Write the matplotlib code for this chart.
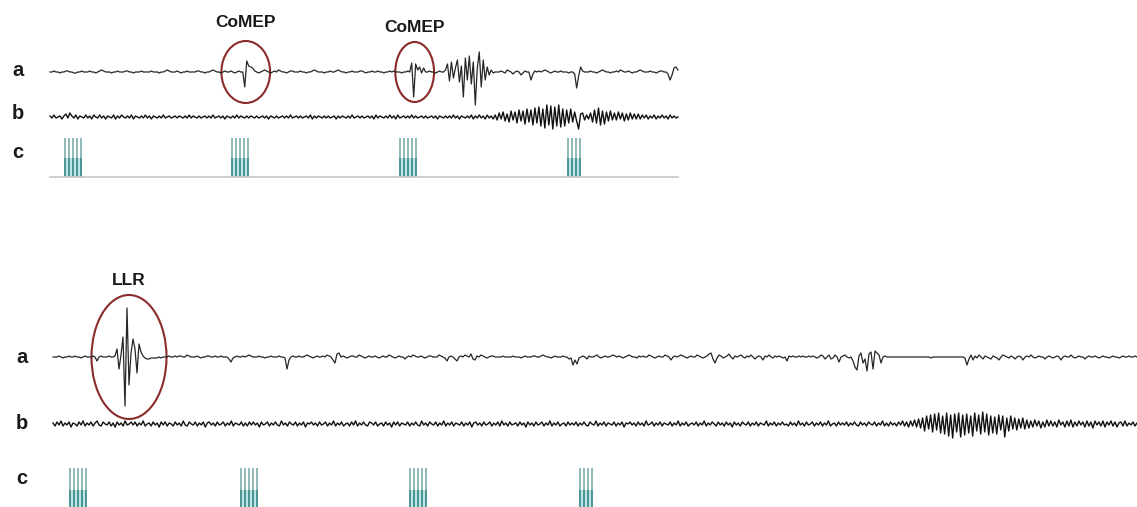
import numpy as np
import matplotlib
matplotlib.use("Agg")
import matplotlib.pyplot as plt
from matplotlib.patches import Ellipse, Rectangle

plt.rcParams['font.family'] = ['Liberation Sans', 'DejaVu Sans']

SAMPLE_MS = 2  # both sweeps are sampled every 2 ms

# --- sweep 1: channel a (EMG), channel b (EEG); amplitude in display units, up = positive
top_a = [
    0, 0, 1, 0, 0, -1, 0, 0, 1, 1, 0, 0, -1, -1, 0, 0, 1, 0, 0, 0,
    1, 0, 0, -1, 0, 1, 2, 1, 0, 0, 0, -1, 0, 0, 1, 0, 0, 0, 1, 1,
    0, 0, -1, 0, 0, 0, 1, 0, 0, 0, 0, 1, 0, 0, 0, -1, 0, 0, 1, 2,
    1, 0, 0, 0, 1, 0, -1, 0, 0, 1, 0, 0, 0, 0, 1, 1, 0, 0, -1, 0,
    0, 1, 2, 1, 0, 0, -1, 0, 1, 0, 0, 1, 0, -1, 0, 1, 0, 0,
    -15, 11, 6, 5, 4, 1, 0,
    -1, 0, 1, 2, 1, 0, -1, 0, 1, 0, 2, 1, 0, 0, -1, 0, 1, 1, 0, 0,
    0, 1, 0, 0, -1, 0, 0, 1, 2, 1, 0, 0, 0, -1, 0, 0, 1, 0, 0, 1,
    2, 1, 0, 0, -1, 0, 0, 1, 0, 0, 0, 1, 1, 0, -1, 0, 0, 1, 0, 0,
    1, 0, 0, -1, 0, 0, 1, 0, 1, 0, 0, 0, -1, 0, 0, 1, 0,
    9, -25, 8, 2, 5, -1, 4, 0,
    0, 1, 0, 0, -1, 0, 1, 0, 0,
    2, 8, -9, 10, -6, 4, 12, -10, 6, -25, 14, -8, 16, -12, 10, -33, 4, 20,
    -15, 12, -8, 5, -3, 2, -1, 0, 0,
    0, 1, 0, -1, 2, 1, 0, -2, 0, 1, 0, -3, -1, 1, 0, 0,
    -8, -2, 1, 0, 1, 0,
    1, 2, 1, 0, -1, 0, 1, 0, 0, 1, 0, 0,
    0, -1, 0,
    0, -2, -16, -4, 5, 1, 0, 0,
    0, 1, 0, 0, -1, 0, 1, 2, 1, 0, 0, -1, 0, 0, 1, 0, 2, 1, 0, 0,
    1, 0, -1, 0, 0, 1, 2, 1, 0, 0,
    0, 1, 0, 0, -1, 0, 1, 1, 0, 0, -2, -8, -3, 4, 5, 2,
]

top_b = [
    1, -1, 2, -1, 0, 1, -2, 1, 3, -1, 4, 1, -1, 2, -2, 1, 0, -1, 2, -1,
    1, -2, 2, 0, -1, 2, -1, 1, -2, 1, 0, -1, 2, -2, 1, -1, 2, 0, -1, 1,
    -1, 2, -2, 1, 0, -1, 1, -1, 2, -1, 1, -2, 1, 0, -1, 1, -1, 2, -1, 0,
    1, -1, 0, 1, -1, 1, 0, -1, 1, -1, 2, -1, 1, 0, -1, 1, -1, 0, 1, -1,
    1, -1, 2, -1, 0, 1, -1, 1, -2, 1, 0, -1, 1, -1, 2, -1, 1, 0, -1, 1,
    -1, 1, 0, -1, 1, -1, 0, 1, -1, 1, -2, 1, 0, -1, 1, -1, 0, 1, -1, 1,
    -1, 2, -1, 0, 1, -1, 1, -1, 0, 1, -1, 2, -2, 1, -1, 1, 0, -1, 1, -1,
    1, -1, 0, 1, -2, 1, -1, 1, 0, -1, 1, -1, 2, -1, 0, 1, -1, 1, -1, 0,
    1, -1, 1, -2, 2, -1, 1, 0, -1, 1, -1, 2, -1, 1, -2, 2, -1, 0, 1, -1,
    1, -1, 2, -1, 1, -1, 0, 1, -1, 1, -1, 0, 1, -1, 1, -2, 1, 0, -1, 1,
    -1, 1, -1, 2, -1, 1, -2, 1, 0, -1, 1, -1, 2, -2, 1, -1, 2, -1, 1, -2,
    2, -1, 1, -2,
    2, -3, 4, -2, 5, -4, 3, -5, 6, -3, 5, -6, 7, -4, 6, -7, 8, -5, 7, -8,
    9, -6, 10, -9, 8, -11, 12, -8, 11, -12, 10, -9, 12, -10, 8, -9, 7, -6, 8, -5,
    5, -4, -12, 3, 4, -3, 2, -2, 4, -5, 7, -6, 9, -8, 6, -7, 5, -4, 6, -3,
    4, -3, 5, -2, 4, -4, 3, -3, 4, -2, 3, -2, 3,
    -2, 2, -1, 2, -2, 1, -1, 2, -2, 1, -1, 2, -1, 1, -2, 2, -1, 1, -1, 0,
]

# --- sweep 2
bottom_a = [
    0, 0, 0, 1, 0, -1, 0, 0, 1, 0, 0, 1, 0, 0, -1, 0, 1, 0, 0, 0, 1,
    0, -4, 0, 1, 0, 0, 0, 1, 0, 0, 1,
    8, -12, 2, 20, -49, 49, -28, 4, 18, 8, -16, 13, 5, 1,
    -1, -2, -2, -1, -1, -1, -1, 0, -1, 0, 0, 0, 1, 0, 0, 1,
    0, 1, 1, 0, 0, 2, 1, 0, 0, 0, 1, 0, -1, 0, 0, 1, 1, 0, 0, 1,
    0, 0, 1, 0, 0, 0, -2, -5, -1, 0, 1, 0, 0, 1, 0, 1, 2, 1, 0, 0,
    0, 1, 0, 0, -1, 0, 0, 1, 0, 0, 0, 1, 0, 0, -1, -12, -3, 0, 1, 0,
    0, 1, 0, 0, 1, 2, 1, 0, -1, 0, 1, 0, 0, 1, 0, 2, 1, 0, -3, -6,
    3, 4, 0, 1, 0, -1, 0, 1, 1, 0, 0, 2, 1, 0, -1, 0, 1, 0, 0, 1,
    0, -1, 0, 1, 0, 0, 2, 1, 0, -1, 0, 1, 0, 0, -2, 0, 1, 0, 2, 1,
    0, 0, 1, 0, -1, 0, 1, 1, 0, 0, 0, 2, 1, 0, -1, -4, 0, 1, 0, -2,
    -4, 0, 1, 0, 2, 1, 0, 3, -2, -3, 1, 0, 2, 1, 0, -1, 0, 1, 1, 0,
    0, 0, 0, 1, 0, 0, 0, 0, 1, 0, 0, 0, -1, 0, 1, 0, 0, 0, 1, 1,
    0, 0, 1, 2, 1, 0, 0, -1, 0, 1, 0, 0, 0, 1, 0, 0, -2, -1, -8, -3,
    -7, -1, 0, 1, 0, -2, 1, 0, 0, 1, 2, 0, -1, 0, 1, 0, 0, 1, 2, 1,
    0, 1, 0, -1, 0, 1, 2, 1, 0, 0, -1, 1, 0, 1, 0, 0, 2, 1, 0, -1,
    0, 1, 0, 0, 2, 1, 0, -3, 0, 1, 0, 1, 2, 1, 0, -1, 0, 1, 0, 0,
    2, 1, 0, -1, 0, 1, 3, 4, -2, -6, -1, 2, 1, -1, 0, 1, 3, 0, -2, 1,
    0, 1, 2, 0, -1, 1, 0, 2, 0, -2, 0, 1, 0, -3, 1, 0, 2, 0, -1, 1,
    0, 1, 0, -1, 0, -4, 1, 0, 1, 0, 0, 1, 0, 1, 0, 0, 1, 0, 1, 0,
    -1, 0, 2, 1, -2, 0, 2, -2, -1, 2, 0, -5, 0, 1, 2, 0, -1, 0, -4, -10,
    -13, 1, 4, -6, -2, -14, 3, 5, -12, 6, 4, 2, -6, 0, 1, 0, 0, 0, 0, 0,
    0, 0, 0, 0, 0, 0, 0, 0, 0, 0, 0, 0, 0, 0, 0, 0, 0, -1, 0, 0,
    0, 0, 0, 0, 0, 0, 0, 0, 0, 0, 0, 0, 0, 0, -1, -8, -2, 2, -3, 1,
    -1, 2, 0, -2, 1, 0, -1, -2, 1, 0, -1, -3, 0, 2, 1, 0, -1, 1, 0, -2,
    0, 1, 0, -3, 0, 1, 0, 2, 0, -1, 0, 1, 0, 0, -2, 0, 1, 0, -1, 0,
    1, 0, -3, 0, 1, 0, 0, 2, 0, -1, 0, 1, 0, 0, -2, 0, 1, 0, 0, 1,
    0, -1, 0, 1, 0, 0, -1, 0, 1, 0, 0, -1, 0, 1, 0, 0, 1, 0, 0, 1, 0,
]

bottom_b = [
    1, -2, 2, -1, 3, -2, 1, -1, 2, -3, 1, 0, -2, 2, -1, 3, -2, 1, -1, 2,
    -2, 1, 3, -1, -2, 2, 0, -1, 2, -2, 1, -3, 2, -1, 1, -2, 3, -1, 0, 2,
    -1, 2, -2, 1, -1, 3, -2, 0, 1, -2, 2, -1, 1, -3, 2, -1, 2, -2, 1, 0,
    -2, 2, -1, 1, -2, 3, -1, -2, 2, 0, -1, 2, -2, 1, -1, 2, -3, 1, 2, -1,
    1, -2, 2, -1, 0, 2, -2, 1, -1, 3, -2, 1, 0, -1, 2, -2, 1, -2, 2, -1,
    2, -1, 1, -3, 2, -1, 0, 2, -2, 1, -1, 2, -1, -2, 3, -1, 1, -2, 2, 0,
    -1, 2, -2, 1, -1, 2, -3, 1, 0, 2, -1, 1, -2, 2, -1, 0, 2, -2, 1, -1,
    3, -2, 1, -1, 2, -2, 0, 1, -2, 2, -1, 3, -2, 1, -1, 2, -1, -2, 2, 1,
    -1, 2, -2, 0, 1, -2, 2, -1, 1, -3, 2, -1, 2, -2, 1, 0, -1, 2, -2, 1,
    -1, 2, -1, -2, 3, -1, 1, -2, 2, 0, -1, 2, -2, 1, -1, 3, -2, 1, -1, 2,
    -2, 1, 0, -1, 2, -2, 1, -1, 2, -3, 1, 2, -1, 1, -2, 2, -1, 0, 2, -2,
    1, -1, 2, -2, 3, -1, 1, -2, 2, -1, 0, 1, -2, 2, -1, 1, -3, 2, -1, 1,
    -2, 2, -1, 0, 2, -2, 1, -1, 3, -2, 1, -1, 2, -2, 0, 1, -2, 2, -1, 1,
    -1, 2, -2, 1, -1, 2, -1, -2, 2, 0, -1, 3, -2, 1, -1, 2, -2, 1, 0, -1,
    2, -2, 1, -1, 2, -3, 1, 0, 2, -1, 1, -2, 2, -1, 1, -2, 3, -1, 0, 2,
    -2, 1, -1, 2, -2, 1, 0, -1, 2, -2, 1, -1, 3, -2, 1, -1, 2, -2, 0, 1,
    -1, 2, -2, 1, -1, 3, -2, 1, -1, 2, 0, -2, 2, -1, 1, -2, 2, -1, 1, -3,
    2, -1, 1, -2, 2, 0, -1, 2, -2, 1, -1, 2, -2, 1, 0, -1, 3, -2, 1, -1,
    2, -2, 1, -1, 2, -1, 0, -2, 2, -1, 1, -2, 3, -1, 1, -2, 2, -1, 0, 2,
    -2, 1, -1, 2, -2, 1, -1, 3, -2, 0, 1, -2, 2, -1, 1, -1, 2, -2, 1, -1,
    2, -1, -2, 2, -1, 1, -2, 2, 0, -1, 2, -2, 1, -1, 3, -2, 1, -2, 2, -1,
    1, -2, 2, -1, 3, -2, 2, -3, 3, -2,
    4, -3, 5, -4, 6, -7, 8, -5, 9, -8, 10, -6, 11, -9, 8, -10, 11, -12, 9, -14,
    10, -8, 11, -13, 9, -11, 10, -9, 8, -12, 11, -7, 9, -10, 12, -8, 10, -11, 8, -9,
    7, -10, 9, -6, 8, -13, 6, -7, 8, -5, 6, -6, 5, -4, 6, -5, 4, -4,
    3, -3, 4, -2, 3, -4, 2, -3, 4, -2, 3, -2, 2, -3, 4, -1, 2, -3, 3, -2,
    4, -3, 2, -2, 3, -1, 2, -3, 3, -2, 2, -4, 3, -1, 2, -2, 3, -3, 2, -1,
    3, -2, 2, -3, 1, 2, -2, 3, -2, 1, -1, 2, -2, 1,
]

# stimulation pulse trains (channel c), ms from sweep start
top_pulses = [[15, 19, 23, 27, 31], [183, 187, 191, 195, 199],
              [352, 356, 360, 364, 368], [521, 525, 529, 533]]
bottom_pulses = [[17, 21, 25, 29, 33], [188, 192, 196, 200, 204],
                 [357, 361, 365, 369, 373], [527, 531, 535, 539]]

# marked responses: label, centre (ms), width (ms), height (units)
top_marks = [("CoMEP", 197, 49, 62), ("CoMEP", 367, 39, 60)]
bottom_marks = [("LLR", 76, 75, 124)]

W, H = 1137, 507
fig = plt.figure(figsize=(W / 100, H / 100), dpi=100)
ax = fig.add_axes([0, 0, 1, 1])
ax.set_xlim(0, W)
ax.set_ylim(H, 0)
ax.axis('off')

RING = '#8b2b2b'


def draw_sweep(a, b, pulses, marks, left, right, ya, yb, c_top, c_bot,
               label_x, label_base, title_base, baseline=False):
    n = len(a)
    dur = (n - 1) * SAMPLE_MS
    scale = (right - left) / dur
    t_a = np.arange(n) * SAMPLE_MS
    t_b = np.linspace(0, dur, len(b))
    ax.plot(left + t_a * scale, ya - np.array(a), color='#262626', lw=0.9)
    ax.plot(left + t_b * scale, yb - np.array(b), color='#111111', lw=1.0)

    mid = c_top + (c_bot - c_top) * 0.5
    for group in pulses:
        xs = left + np.array(group) * scale
        ax.add_patch(Rectangle((xs.min(), mid), xs.max() - xs.min(), c_bot - mid,
                               facecolor='#bfe6e6', edgecolor='none'))
        ax.vlines(xs, c_top, mid, color='#86b3b3', lw=1.3)
        ax.vlines(xs, mid, c_bot, color='#3f8c8c', lw=1.3)
    if baseline:
        ax.plot([left, right], [c_bot, c_bot], color='#c8c8c8', lw=1.2)

    for (lab, tc, w, h), tb in zip(marks, title_base):
        xc = left + tc * scale
        ax.add_patch(Ellipse((xc, ya), w * scale, h, facecolor='none',
                             edgecolor=RING, lw=1.5))
        ax.text(xc, tb, lab, ha='center', va='baseline', fontsize=12.5,
                fontweight='bold', color='#1a1a1a')

    for lab, yl in zip('abc', label_base):
        ax.text(label_x, yl, lab, ha='center', va='baseline', fontsize=14.5,
                fontweight='bold', color='#1a1a1a')


draw_sweep(top_a, top_b, top_pulses, top_marks, 50, 678, 72, 117, 138, 177,
           18, (76, 119, 158), (27, 32), baseline=True)
draw_sweep(bottom_a, bottom_b, bottom_pulses, bottom_marks, 53, 1137, 357, 424,
           468, 512, 22, (363, 429, 484), (285,))

fig.savefig('out.png', dpi=100)
